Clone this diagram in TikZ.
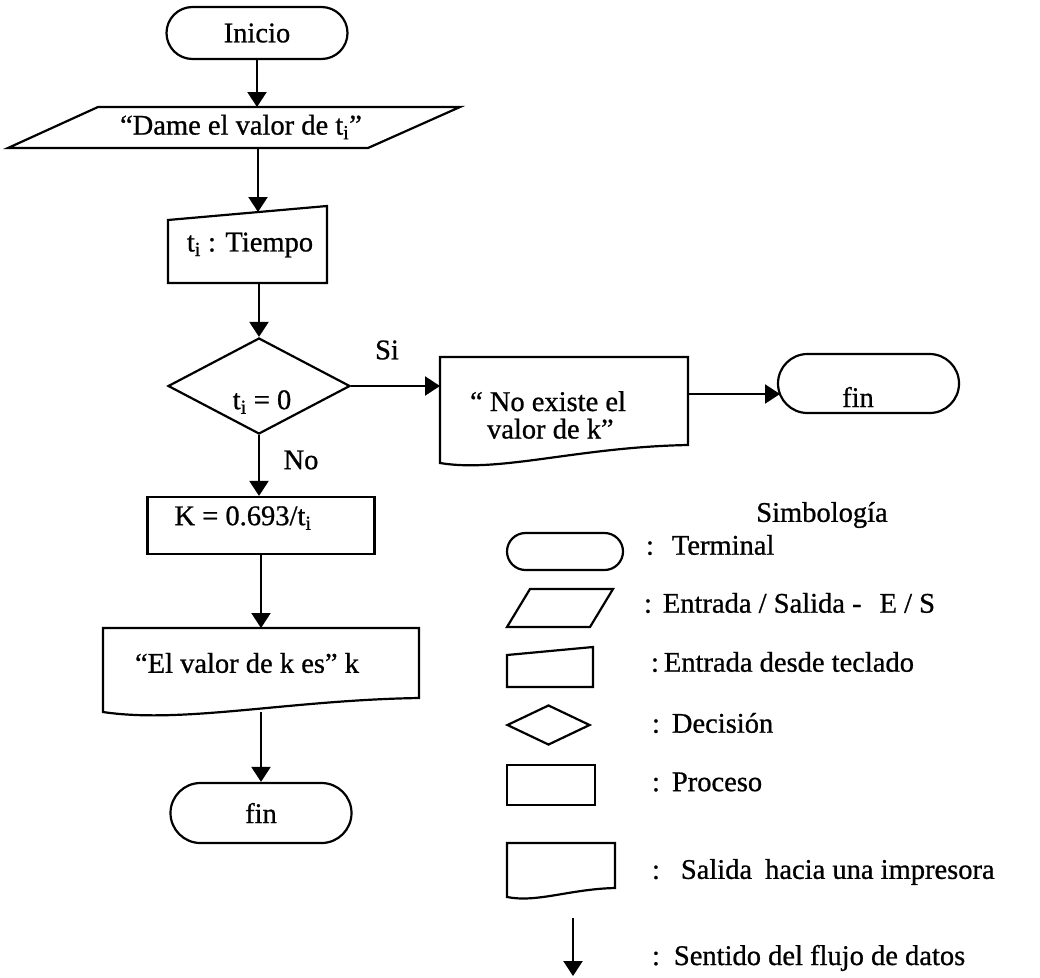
\documentclass[tikz,border=0pt]{standalone}
\usepackage{fontspec}
\setmainfont{Liberation Serif}[FakeBold=0.8]
\usetikzlibrary{arrows.meta,shapes.geometric,shapes.misc,calc}
\begin{document}
\begin{tikzpicture}[x=1pt,y=-1pt,
  font=\fontsize{28.5}{28.5}\selectfont,
  shp/.style={draw, line width=2.2pt, line join=miter},
  term/.style={shp, rounded rectangle, inner sep=0pt},
  procbox/.style={shp, rectangle, inner sep=0pt},
  decis/.style={shp, diamond, inner sep=0pt},
  frame/.style={rectangle, draw=none, inner sep=0pt, outer sep=0pt},
  txt/.style={inner sep=0pt, outer sep=0pt},
  arr/.style={line width=2.2pt, -{Triangle[length=15pt,width=19pt]}}]
\useasboundingbox (0,0) rectangle (1040,977);

% ---------- main flow ----------
\node[term, minimum width=181pt, minimum height=52pt] (ini) at (257,33) {Inicio};

\node[frame, minimum width=452pt, minimum height=41pt] (dame) at (234,127.5) {};
\draw[shp] (dame.south west) -- ($(dame.north west)+(90pt,0)$) -- (dame.north east)
  -- ($(dame.south east)+(-92pt,0)$) -- cycle;
\node[txt] (dametxt) at (241,127) {“Dame el valor de t\textsubscript{i}”};

\node[frame, minimum width=159pt, minimum height=77pt] (tiem) at (247.5,244.5) {};
\draw[shp] (tiem.south west) -- ($(tiem.north west)+(0,-14pt)$) -- (tiem.north east)
  -- (tiem.south east) -- cycle;
\node[txt] (tiemtxt) at (250,245) {t\textsubscript{i} : Tiempo};

\node[decis, minimum width=182pt, minimum height=96pt] (dec) at (259,386) {};
\node[txt] (dectxt) at (262,402) {t\textsubscript{i} = 0};

\node[frame, minimum width=248pt, minimum height=106pt] (noex) at (564,410) {};
\draw[shp] (noex.north west) -- (noex.south west)
  .. controls +(60pt,-10pt) and +(-110pt,-2pt) .. ($(noex.south east)+(0,18pt)$)
  -- (noex.north east) -- cycle;
\node[txt, align=left] (noextxt) at (548,415)
  {“ No existe el\\[-1pt]\hspace{17pt}valor de k”};

\node[term, minimum width=181pt, minimum height=59pt] (fin1) at (868.5,383.5) {};
\node[txt] (fin1txt) at (858,397) {fin};

\node[procbox, minimum width=227pt, minimum height=57pt] (kbox) at (261,525.5) {};
\node[txt] (ktxt) at (243,518) {K = 0.693/t\textsubscript{i}};

\node[frame, minimum width=316pt, minimum height=84pt] (doc2) at (261,670) {};
\draw[shp] (doc2.north west) -- (doc2.south west)
  .. controls +(80pt,-12pt) and +(-130pt,-2pt) .. ($(doc2.south east)+(0,14pt)$)
  -- (doc2.north east) -- cycle;
\node[txt] (doc2txt) at (247,663) {“El valor de k es” k};

\node[term, minimum width=181pt, minimum height=60pt] (fin2) at (261,813) {fin};

% labels
\node[txt] (si) at (387,350) {Si};
\node[txt] (no) at (301,460) {No};

% connectors
\coordinate (tin) at (258,212);
\coordinate (f1in) at (780,394);
\draw[arr] (ini.south) -- (ini.south |- dame.north);
\draw[arr] (dame.south -| tin) -- (tin);
\draw[arr] (dec.north |- tiem.south) -- (dec.north);
\draw[arr] (dec.east) -- (dec.east -| noex.west);
\draw[arr] (noex.east |- f1in) -- (f1in);
\draw[arr] (dec.south) -- (dec.south |- kbox.north);
\draw[arr] (kbox.south) -- (kbox.south |- doc2.north);
\draw[arr] (doc2.south) -- (fin2.north);

% ---------- legend ----------
\node[txt] (simb) at (822,515) {Simbología};

\node[term, minimum width=116pt, minimum height=37pt] (lterm) at (565,551.5) {};
\node[txt, anchor=west] (lterm-t) at (646,545) {:\hspace{18pt}Terminal};

\node[frame, minimum width=106pt, minimum height=38pt] (lio) at (560,608) {};
\draw[shp] (lio.south west) -- ($(lio.north west)+(23pt,0)$) -- (lio.north east)
  -- ($(lio.south east)+(-23pt,0)$) -- cycle;
\node[txt, anchor=west] (lio-t) at (644,603) {:\hspace{11pt}Entrada / Salida -\hspace{18pt}E / S};

\node[frame, minimum width=86pt, minimum height=40pt] (lman) at (550,667) {};
\draw[shp] (lman.south west) -- ($(lman.north west)+(0,-8pt)$) -- (lman.north east)
  -- (lman.south east) -- cycle;
\node[txt, anchor=west] (lman-t) at (651,662) {:\hspace{5pt}Entrada desde teclado};

\node[decis, minimum width=83pt, minimum height=40pt] (ldec) at (548.5,725) {};
\node[txt, anchor=west] (ldec-t) at (652,723) {:\hspace{12pt}Decisión};

\node[procbox, minimum width=88pt, minimum height=40pt] (lproc) at (551,785) {};
\node[txt, anchor=west] (lproc-t) at (652,782) {:\hspace{12pt}Proceso};

\node[frame, minimum width=108pt, minimum height=54pt] (ldoc) at (561,870) {};
\draw[shp] (ldoc.north west) -- (ldoc.south west)
  .. controls +(30pt,-6pt) and +(-45pt,-1pt) .. ($(ldoc.south east)+(0,9pt)$)
  -- (ldoc.north east) -- cycle;
\node[txt, anchor=west] (ldoc-t) at (652,872) {:\hspace{21pt}Salida\hspace{13pt}hacia una impresora};

\coordinate (la1) at (573,918);
\coordinate (la2) at (573,976);
\draw[arr] (la1) -- (la2);
\node[txt, anchor=west] (larr-t) at (652,958) {:\hspace{14pt}Sentido del flujo de datos};
\end{tikzpicture}
\end{document}
